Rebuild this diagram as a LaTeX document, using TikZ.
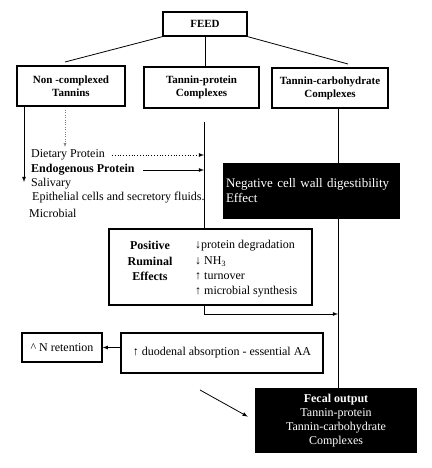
\documentclass[tikz,border=0pt]{standalone}
\usepackage{fontspec}
\setmainfont{Liberation Serif}
\begin{document}
\begin{tikzpicture}[x=1pt,y=-1pt,
  box/.style={draw,line width=1.3pt,align=center,inner sep=2pt},
  head/.style={box,font=\fontsize{11}{13}\selectfont\bfseries},
  blackbox/.style={fill=black,text=white,inner sep=3pt},
  conn/.style={line width=0.8pt},
  item/.style={anchor=west,inner sep=2pt}]
\fontsize{12}{14}\selectfont
\useasboundingbox (0,0) rectangle (431,468);

% top row
\node[head,minimum width=84,minimum height=24] (feed) at (205,24) {FEED};
\node[head,minimum width=108,minimum height=40] (noncx) at (71,86) {Non -complexed\\Tannins};
\node[head,minimum width=115,minimum height=41] (tanprot) at (201.5,87.5) {Tannin-protein\\Complexes};
\node[head,minimum width=116,minimum height=40] (tancarb) at (330,88) {Tannin-carbohydrate\\Complexes};

\coordinate (lfoot) at (65,62);
\coordinate (rfoot) at (348,64);
\draw[conn] (feed.south west) -- (lfoot);
\draw[conn] (feed.south) -- (feed.south |- tanprot.north);
\draw[conn] (feed.south east) -- (rfoot);

% protein list
\node[item] (diet) at (29,155) {Dietary Protein};
\node[item] (endo) at (29,170) {\textbf{Endogenous Protein}};
\node[item] (saliv) at (29,184) {Salivary};
\node[item] (epith) at (30,198) {Epithelial cells and secretory fluids.};
\node[item] (microb) at (27,213) {Microbial};

\coordinate (ldown) at (24,106);
\draw[conn,-latex] (ldown) -- ++(0,76);
\draw[dotted,gray,-latex] (65,110) -- (65,147);

% middle column
\coordinate (tptop) at (204,122);
\node[box,minimum width=203,minimum height=76] (pos) at (210.5,267) {};
\node[align=center,inner sep=0pt,font=\fontsize{12}{15.3}\selectfont\bfseries] (posl) at (150,261) {Positive\\Ruminal\\Effects};
\node[align=left,anchor=west,inner sep=0pt,font=\fontsize{12}{15.3}\selectfont] (posr) at (195,269)
  {↓protein degradation\\↓ NH\textsubscript{3}\\↑ turnover\\↑ microbial synthesis};
\draw[conn] (tptop) -- (tptop |- pos.north);
\draw[conn,dotted,-latex,shorten <=5pt] (diet.east) -- (diet.east -| tptop);
\draw[conn,-latex,shorten <=6pt] (endo.east) -- (endo.east -| tptop);

% right column
\coordinate (rctop) at (338,108);
\node[blackbox,minimum width=162,minimum height=65,align=center,font=\fontsize{12}{14}\selectfont] (fecal) at (336,420.5)
  {\textbf{Fecal output}\\Tannin-protein\\Tannin-carbohydrate\\Complexes};
\draw[conn] (rctop) -- (rctop |- fecal.north);
\node[blackbox,minimum width=177,minimum height=56,text width=171,align=left,font=\fontsize{13}{15}\selectfont] (neg) at (311.5,191)
  {Negative cell wall digestibility\\Effect};

\coordinate (posout) at (204,314);
\draw[conn,-latex] (tptop |- pos.south) -- (posout) -- (posout -| rctop);

% bottom
\node[box,minimum width=202,minimum height=40] (duod) at (222,353) {↑ duodenal absorption - essential AA};
\node[box,minimum width=80,minimum height=29] (nret) at (62,347.5) {\textasciicircum\ N retention};
\draw[conn,-latex] (duod.west |- nret.east) -- (nret.east);

\coordinate (diag) at (200,390);
\draw[conn,-latex,shorten >=8pt] (diag) -- (fecal.west);
\end{tikzpicture}
\end{document}
